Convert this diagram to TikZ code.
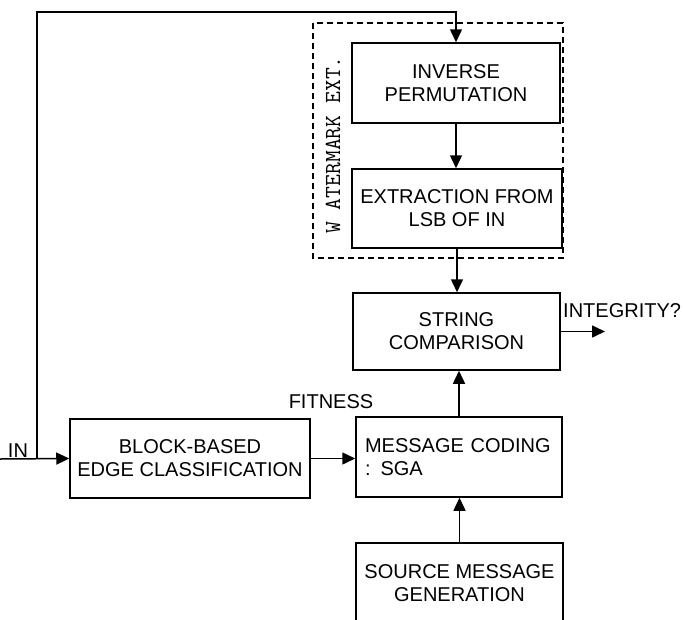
\documentclass[tikz,border=0pt]{standalone}
\usepackage{fontspec}
\setmainfont{Liberation Sans}
\usetikzlibrary{arrows.meta,positioning}
\begin{document}
\begin{tikzpicture}[x=1pt,y=-1pt,
    box/.style={draw,line width=1.5pt,inner sep=0pt,align=center,
      minimum width=208pt,minimum height=80pt,font=\fontsize{20}{23}\selectfont},
    flow/.style={line width=1.5pt,-{Triangle[length=13pt,width=12pt]}},
    lbl/.style={inner sep=0pt,anchor=base,font=\fontsize{20}{23}\selectfont}]
    \clip (0,0) rectangle (683,619);
    % watermark extraction part
    \draw[line width=1.4pt,dash pattern=on 6pt off 4pt] (313,23) rectangle (563,258);
    \node[rotate=90,inner sep=0pt,font=\ttfamily\fontsize{23}{26}\selectfont] (wmk) at (333,145) {W ATERMARK EXT.};
    \node[box] (inv) at (456,83) {INVERSE\\PERMUTATION};
    \node[box,minimum width=210pt,minimum height=79pt] (ext) at (457,208.5) {EXTRACTION FROM\\LSB OF IN};
    \node[box,minimum width=207pt,minimum height=77pt] (str) at (456.5,331.5) {STRING\\COMPARISON};
    \node[box,minimum width=240pt,minimum height=79pt] (blk) at (190,458.5) {BLOCK-BASED\\EDGE CLASSIFICATION};
    \node[box,minimum width=206pt,text width=188pt,inner xsep=9pt,align=left] (msg) at (459,457) {\mbox{MESSAGE CODING}\\: SGA};
    \node[box,minimum width=207pt] (src) at (459.5,583) {SOURCE MESSAGE\\GENERATION};
    % labels
    \node[lbl] (inlbl) at (18,457) {IN};
    \node[lbl] (fit) at (331,408) {FITNESS};
    \node[lbl,anchor=base west] (integ) at (563,317) {INTEGRITY?};
    \coordinate (inL) at (0,459);
    \coordinate (jn) at (37,459);
    \coordinate (tl) at (37,12);
    \coordinate (out) at (605,333);
    % connectors
    \draw[flow] (inL) -- (blk.west);
    \draw[flow] (jn) -- (tl) -| (inv.north);
    \draw[flow] (inv.south) -- (inv.south |- ext.north);
    \draw[flow] (ext.south) -- (ext.south |- str.north);
    \draw[flow] (blk.east) -- (blk.east -| msg.west);
    \draw[flow] (msg.north) -- (msg.north |- str.south);
    \draw[flow] (src.north) -- (src.north |- msg.south);
    \draw[flow] (str.east) -- (str.east -| out);
\end{tikzpicture}
\end{document}
